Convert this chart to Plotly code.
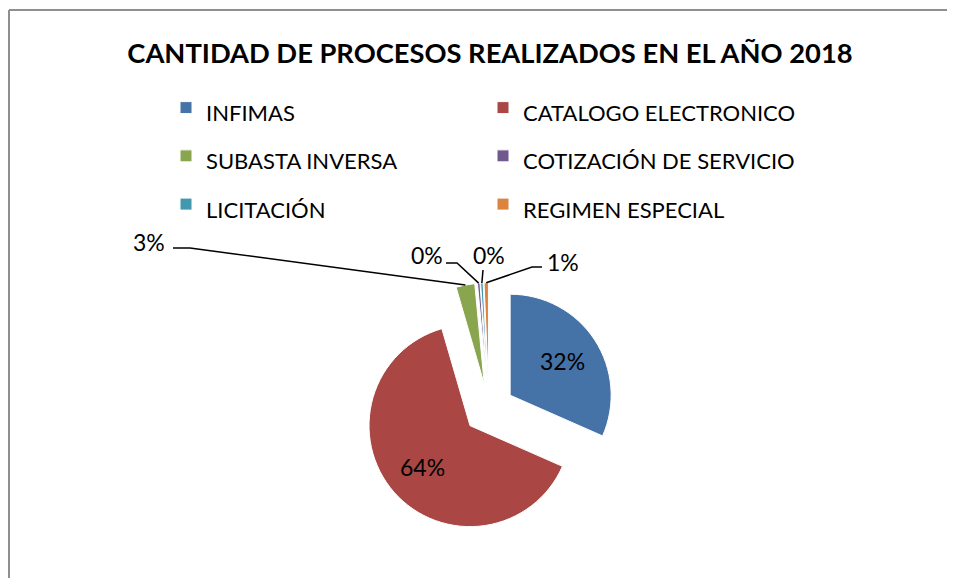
import math
import plotly.graph_objects as go

# ---------------- data ----------------
categories = ["INFIMAS", "CATALOGO ELECTRONICO", "SUBASTA INVERSA",
              "COTIZACIÓN DE SERVICIO", "LICITACIÓN", "REGIMEN ESPECIAL"]
values = [316, 639, 30, 4, 4, 7]
colors = ["#4572A7", "#AA4643", "#89A54E", "#71588F", "#4198AF", "#DB843D"]
title_text = "CANTIDAD DE PROCESOS REALIZADOS EN EL AÑO 2018"

# ---------------- layout helpers ----------------
OFF = 8                      # page body margin of the browser
W, H = 947, 570
ML, MR, MT, MB = 0, 200, 0, 0
PW, PH = W - ML - MR, H - MT - MB
FONT = "Lato"


def px_x(x):
    return (x - OFF - ML) / PW


def px_y(y):
    return 1 - (y - OFF - MT) / PH


CX, CY, BOX = 489, 409, 126.25      # pie box centre / half size (screen pixels)
PULL = 0.25
R = BOX / (1 + PULL)

total = sum(values)
pcts = [round(v / total * 100) for v in values]
legend_labels = [f"<span style='font-size:22px'>{c}</span>" for c in categories]

fig = go.Figure(go.Pie(
    labels=legend_labels,
    values=values,
    sort=False,
    direction="clockwise",
    rotation=0,
    pull=[PULL] * len(values),
    marker=dict(colors=colors, line=dict(color="white", width=1)),
    textinfo="none",
    hoverinfo="label+value+percent",
    domain=dict(x=[px_x(CX - BOX), px_x(CX + BOX)],
                y=[px_y(CY + BOX), px_y(CY - BOX)]),
))

# ---------------- data labels ----------------
outside_labels = {
    2: dict(pos=(149, 242), start=(173, 248), elbow=(190, 248)),
    3: dict(pos=(427, 255), start=(446, 263), elbow=(457, 263)),
    4: dict(pos=(489, 255), start=(483, 270), elbow=None),
    5: dict(pos=(563, 262), start=(542, 267), elbow=(532, 267)),
}
INSIDE_FRAC = 0.62
LABEL_FONT = dict(family=FONT, size=23, color="black")

cum = 0.0
shapes = []
annotations = []
for i, v in enumerate(values):
    a0 = cum / total * 360
    cum += v
    a1 = cum / total * 360
    mid = math.radians((a0 + a1) / 2)
    sx, sy = math.sin(mid), -math.cos(mid)
    if i in outside_labels:
        rr = R * (1 + PULL)
        tx, ty = CX + rr * sx, CY + rr * sy
        cfg = outside_labels[i]
        pts = [cfg["start"]]
        if cfg["elbow"]:
            pts.append(cfg["elbow"])
        pts.append((tx, ty))
        path = "M " + " L ".join(f"{px_x(x):.5f},{px_y(y):.5f}" for x, y in pts)
        shapes.append(dict(type="path", xref="paper", yref="paper", path=path,
                           line=dict(color="black", width=1.5)))
        lx, ly = cfg["pos"]
    else:
        rr = R * (PULL + INSIDE_FRAC)
        lx, ly = CX + rr * sx, CY + rr * sy
    annotations.append(dict(x=px_x(lx), y=px_y(ly), xref="paper", yref="paper",
                            showarrow=False, text=f"{pcts[i]}%",
                            xanchor="center", yanchor="middle", font=LABEL_FONT))

# chart area border (only top and left edges are visible)
BORDER = dict(color="#8f8f8f", width=2)
shapes.append(dict(type="line", xref="paper", yref="paper",
                   x0=px_x(9), y0=px_y(10), x1=px_x(W + OFF + 20), y1=px_y(10), line=BORDER))
shapes.append(dict(type="line", xref="paper", yref="paper",
                   x0=px_x(9), y0=px_y(10), x1=px_x(9), y1=px_y(H + OFF + 20), line=BORDER))

fig.update_layout(
    width=W, height=H,
    margin=dict(l=ML, r=MR, t=MT, b=MB),
    paper_bgcolor="white",
    plot_bgcolor="white",
    title=dict(text=f"<b>{title_text}</b>", x=px_x(490), xref="paper", xanchor="center",
               y=1 - (53 - OFF) / H, yref="container", yanchor="middle",
               font=dict(family=FONT, size=27.3, color="black")),
    showlegend=True,
    legend=dict(orientation="h", x=px_x(166), xanchor="left",
                y=px_y(78.5), yanchor="top",
                entrywidth=272, entrywidthmode="pixels",
                font=dict(family=FONT, size=34.8, color="black"),
                bgcolor="rgba(0,0,0,0)", traceorder="normal"),
    shapes=shapes,
    annotations=annotations,
)

fig.write_html("out.html", config={"displayModeBar": False},
               post_script="document.body.style.overflow='hidden';")
